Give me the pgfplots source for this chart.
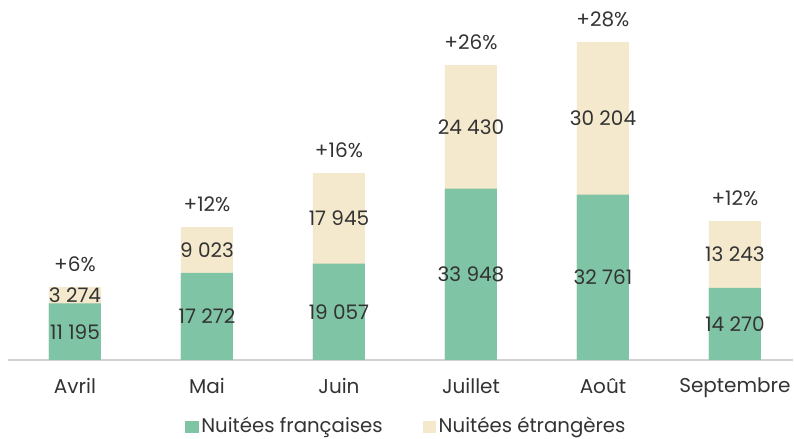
\documentclass[border=0pt]{standalone}
\usepackage{fontspec}
\setmainfont{Poppins}
\usepackage{pgfplots}
\usepackage{pgfplotstable}
\pgfplotsset{compat=1.18}

\definecolor{vert}{HTML}{7FC4A5}
\definecolor{beige}{HTML}{F4E9CD}
\definecolor{texte}{HTML}{333333}

\pgfplotstableread{
x green beige pct
0 11195 3274 6
1 17272 9023 12
2 19057 17945 16
3 33948 24430 26
4 32761 30204 28
5 14270 13243 12
}\nuitees

\begin{document}
\begin{tikzpicture}[font=\fontsize{15}{17}\selectfont, text=texte]
\path[use as bounding box] (0,0) rectangle (595.5pt,329.25pt);
\begin{axis}[
at={(6pt,59.25pt)}, anchor=south west,
scale only axis,
width=588.75pt, height=270pt,
xmin=-0.5076, xmax=5.44,
ymin=0, ymax=71280,
axis x line*=bottom, axis y line=none,
x axis line style={-, draw=black!18, line width=0.8pt},
xtick=data,
xticklabels={Avril,Mai,Juin,Juillet,Août,Septembre},
major tick length=0pt,
xticklabel style={yshift=-10pt, font=\fontsize{15}{17}\selectfont},
/pgf/number format/assume math mode=true,
/pgf/number format/1000 sep={\ },
bar width=39pt,
legend style={at={(0.508,-0.183)}, anchor=center, draw=none, fill=none,
  inner sep=0pt, legend columns=2,
  /tikz/every even column/.append style={column sep=28pt},
  font=\fontsize{14.8}{17}\selectfont},
legend image code/.code={\fill[#1] (0pt,-5.5pt) rectangle (10pt,3.5pt);},
every node near coord/.style={anchor=center, text=texte, font=\fontsize{15}{17}\selectfont},
]
\addplot[ybar, bar shift=0pt, fill=vert, draw=none] table[x=x, y=green] {\nuitees};
\addlegendentry{Nuitées françaises}
\addplot[ybar, bar shift=0pt, fill=beige, draw=none] table[x=x, y expr=\thisrow{green}+\thisrow{beige}] {\nuitees};
\addlegendentry{Nuitées étrangères}
\addplot[ybar, bar shift=0pt, fill=vert, draw=none, forget plot] table[x=x, y=green] {\nuitees};

% labels
\addplot[draw=none, forget plot, nodes near coords, point meta=explicit]
  table[x=x, y expr=\thisrow{green}/2, meta=green] {\nuitees};
\addplot[draw=none, forget plot, nodes near coords, point meta=explicit]
  table[x=x, y expr=\thisrow{green}+\thisrow{beige}/2, meta=beige] {\nuitees};
\addplot[draw=none, forget plot, point meta=explicit,
  nodes near coords={+\pgfmathprintnumber{\pgfplotspointmeta}\%},
  every node near coord/.append style={yshift=17pt}]
  table[x=x, y expr=\thisrow{green}+\thisrow{beige}, meta=pct] {\nuitees};
\end{axis}
\end{tikzpicture}
\end{document}
